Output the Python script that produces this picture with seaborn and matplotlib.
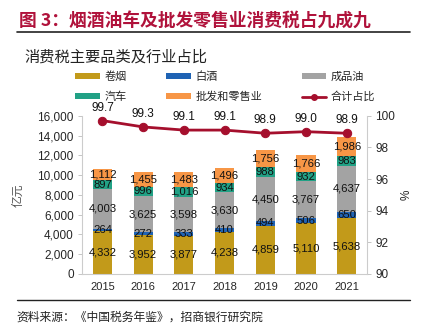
import numpy as np
import pandas as pd
import matplotlib
matplotlib.use("Agg")
import matplotlib.pyplot as plt
import seaborn as sns
from matplotlib.patches import Patch
from matplotlib.lines import Line2D

years = ["2015", "2016", "2017", "2018", "2019", "2020", "2021"]
cigarette = [4332, 3952, 3877, 4238, 4859, 5110, 5638]
liquor = [264, 272, 333, 410, 494, 506, 650]
oil = [4003, 3625, 3598, 3630, 4450, 3767, 4637]
auto = [897, 996, 1016, 934, 988, 932, 983]
retail = [1112, 1455, 1483, 1496, 1756, 1766, 1986]
share = [99.7, 99.3, 99.1, 99.1, 98.9, 99.0, 98.9]

series_names = ["卷烟", "白酒", "成品油", "汽车", "批发和零售业"]
series_vals = [cigarette, liquor, oil, auto, retail]
colors = ["#C29A1A", "#1F63B4", "#A3A3A3", "#21A185", "#F79646"]
line_color = "#A50F2D"

sns.set_theme(style="white")
plt.rcParams["font.family"] = ["Liberation Sans", "Noto Sans CJK SC", "DejaVu Sans"]
cjk = ["Noto Sans CJK SC", "DejaVu Sans"]

fig = plt.figure(figsize=(4.21, 3.32), dpi=100)
ax = fig.add_axes([0.195, 0.175, 0.677, 0.476])

df = pd.DataFrame({"year": years})
cum = np.zeros(len(years))
cums = []
for v in series_vals:
    cum = cum + np.array(v)
    cums.append(cum.copy())

# draw from top to bottom (overlay cumulative)
for i in range(len(series_vals) - 1, -1, -1):
    df["val"] = cums[i]
    sns.barplot(data=df, x="year", y="val", color=colors[i], width=0.47,
                saturation=1, ax=ax, edgecolor="none", linewidth=0)

# segment labels
for i, v in enumerate(series_vals):
    base = cums[i] - np.array(v)
    for j, val in enumerate(v):
        ax.text(j, base[j] + val / 2, f"{val:,}", ha="center", va="center",
                fontsize=8.1, color="#111111")

ax.set_ylim(0, 16000)
ax.set_xlim(-0.5, 6.5)
ax.set_yticks(np.arange(0, 16001, 2000))
ax.set_yticklabels([f"{t:,}" for t in range(0, 16001, 2000)], fontsize=8.5)
ax.tick_params(axis="x", labelsize=8, length=0, pad=6)
ax.tick_params(axis="y", length=3, width=0.6, color="#BBBBBB", left=True, pad=3)
ax.set_xlabel("")
ax.set_ylabel("亿元", family=cjk, fontsize=8.5, color="#555555", labelpad=9)
for s in ["top", "right"]:
    ax.spines[s].set_visible(False)
for s in ["left", "bottom"]:
    ax.spines[s].set_color("#CCCCCC")
    ax.spines[s].set_linewidth(0.8)

ax2 = ax.twinx()
sns.lineplot(x=np.arange(len(years)), y=share, ax=ax2, color=line_color,
             marker="o", markersize=6, linewidth=2, markeredgecolor=line_color)
for j, s in enumerate(share):
    ax2.annotate(f"{s:.1f}", (j, s), xytext=(0, 5), textcoords="offset points",
                 ha="center", va="bottom", fontsize=8.5, color="#111111")
ax2.set_ylim(90, 100)
ax2.set_yticks(np.arange(90, 101, 2))
ax2.tick_params(axis="y", labelsize=8.5, length=3, width=0.6, color="#BBBBBB", right=True, pad=3)
ax2.set_ylabel("%", fontsize=8.5, rotation=90, labelpad=4)
for s in ["top", "left", "bottom"]:
    ax2.spines[s].set_visible(False)
ax2.spines["right"].set_color("#CCCCCC")
ax2.spines["right"].set_linewidth(0.8)
ax2.set_xlim(-0.5, 6.5)

# legend
handles = [Patch(facecolor=c, edgecolor="none") for c in colors]
handles.append(Line2D([0], [0], color=line_color, marker="o", markersize=4, linewidth=2))
labels = series_names + ["合计占比"]
order = [0, 3, 1, 4, 2, 5]
leg = fig.legend([handles[k] for k in order], [labels[k] for k in order],
                 ncol=3, loc="upper left", bbox_to_anchor=(0.155, 0.815),
                 frameon=False, prop={"family": cjk, "size": 8},
                 handlelength=2.2, handleheight=0.4, columnspacing=3.6,
                 labelspacing=0.85, handletextpad=0.4)

fig.text(0.045, 0.935, "图 3：烟酒油车及批发零售业消费税占九成九", family=cjk,
         fontsize=12.8, fontweight="bold", color="#B0123B", va="center", ha="left")
fig.add_artist(Line2D([0.04, 0.975], [0.903, 0.903], color="#222222", linewidth=1.2,
                      transform=fig.transFigure))
fig.text(0.058, 0.828, "消费税主要品类及行业占比", family=cjk, fontsize=11,
         color="#222222", va="center", ha="left")
fig.add_artist(Line2D([0.04, 0.975], [0.097, 0.097], color="#222222", linewidth=1.0,
                      transform=fig.transFigure))
fig.text(0.04, 0.045, "资料来源：《中国税务年鉴》，招商银行研究院", family=cjk,
         fontsize=8.5, color="#222222", va="center", ha="left")

fig.savefig("out.png", dpi=100)
